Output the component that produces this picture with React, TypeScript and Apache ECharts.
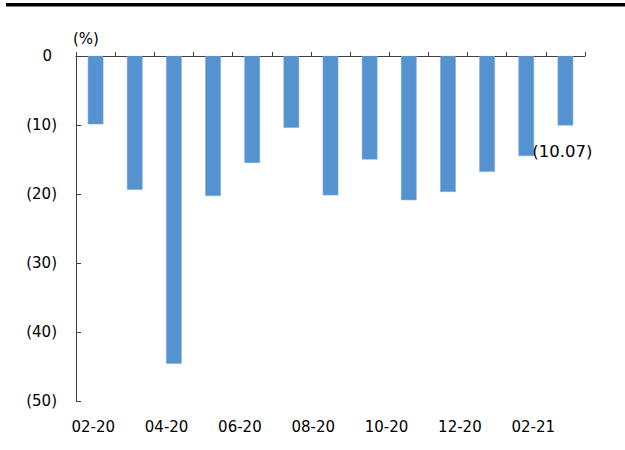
import React, { useEffect, useRef } from "react";
import * as echarts from "echarts";

const months = ["02-20", "03-20", "04-20", "05-20", "06-20", "07-20", "08-20", "09-20", "10-20", "11-20", "12-20", "01-21", "02-21"];
const values = [-9.9, -19.4, -44.6, -20.3, -15.5, -10.4, -20.2, -15.0, -20.9, -19.7, -16.8, -14.5, -10.07];
const tickLabels = ["02-20", "04-20", "06-20", "08-20", "10-20", "12-20", "02-21"];
const lastLabel = "(10.07)";

const FONT = "DejaVu Sans";

export default function App() {
  const ref = useRef<HTMLDivElement>(null);
  useEffect(() => {
    if (!ref.current) return;
    const chart = echarts.init(ref.current, null, { renderer: "svg" });
    const seriesData = values.map((v, i) =>
      i === values.length - 1
        ? {
            value: v,
            label: {
              show: true,
              position: "bottom",
              distance: 18,
              offset: [-3, 0],
              formatter: lastLabel,
              color: "#000",
              fontFamily: FONT,
              fontSize: 16.5,
            },
          }
        : v
    );
    chart.setOption({
      animation: false,
      backgroundColor: "#fff",
      graphic: [
        { type: "rect", shape: { x: 6, y: 3, width: 619, height: 3.4 }, style: { fill: "#000" } },
      ],
      grid: [
        { left: 76, top: 56, right: 40, bottom: 49 },
        { left: 56.6, top: 56, right: 55.1, bottom: 49 },
      ],
      xAxis: [
        {
          type: "category",
          gridIndex: 0,
          data: months,
          axisLine: { onZero: true, lineStyle: { color: "#404040", width: 1 } },
          axisTick: { show: true, inside: true, length: 4, interval: 0, lineStyle: { color: "#404040" } },
          axisLabel: { show: false },
        },
        {
          type: "category",
          gridIndex: 1,
          data: tickLabels,
          axisLine: { show: false },
          axisTick: { show: false },
          axisLabel: { interval: 0, margin: 18, color: "#000", fontFamily: FONT, fontSize: 15 },
        },
      ],
      yAxis: [
        {
          type: "value",
          gridIndex: 0,
          min: -50,
          max: 0,
          interval: 10,
          name: "(%)",
          nameLocation: "end",
          nameGap: 10,
          nameTextStyle: { color: "#000", fontFamily: FONT, fontSize: 15, align: "left", padding: [0, 0, 0, -3] },
          axisLine: { show: true, lineStyle: { color: "#404040", width: 1 } },
          axisTick: { show: true, inside: true, length: 5, lineStyle: { color: "#404040" } },
          splitLine: { show: false },
          axisLabel: {
            margin: 19,
            color: "#000",
            fontFamily: FONT,
            fontSize: 15,
            formatter: (v: number) => (v === 0 ? "{z|0}" : `(${Math.abs(v)})`),
            rich: { z: { color: "#000", fontFamily: FONT, fontSize: 15, padding: [0, 5, 0, 0] } },
          },
        },
        {
          type: "value",
          gridIndex: 1,
          min: -50,
          max: 0,
          show: false,
        },
      ],
      series: [
        {
          type: "bar",
          xAxisIndex: 0,
          yAxisIndex: 0,
          data: seriesData,
          barWidth: "40%",
          itemStyle: { color: "#5592D0", borderColor: "#7FAADC", borderWidth: 0.6 },
        },
      ],
    });
    return () => chart.dispose();
  }, []);
  return <div ref={ref} style={{ position: "fixed", left: 0, top: 0, width: 625, height: 450 }} />;
}
